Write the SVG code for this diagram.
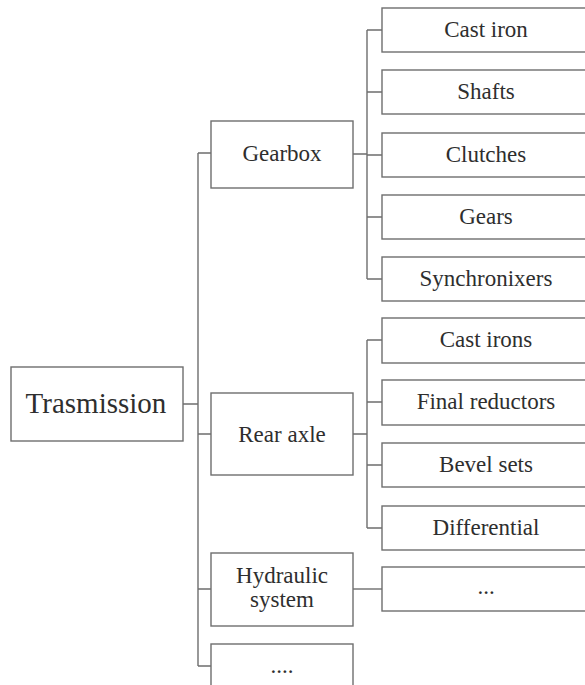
<svg xmlns="http://www.w3.org/2000/svg" width="585" height="685" viewBox="0 0 585 685">
<style>
rect{fill:#fff;stroke:#6e6e6e;stroke-width:1.4}
text{font-family:"Liberation Serif","Times New Roman",serif;font-size:23px;fill:#2e2e2e;text-anchor:middle}
.big{font-size:29px}
#connectors path{fill:none;stroke:#6e6e6e;stroke-width:1.4}
</style>
<rect x="0" y="0" width="585" height="685" style="fill:#fff;stroke:none"/>
<g id="connectors">
<path d="M183 404H198M198 153V666M198 153H211M198 434H211M198 589H211M198 666H211"/>
<path d="M353 154H367M367 30V279M367 30H382M367 92H382M367 155H382M367 217H382M367 279H382"/>
<path d="M353 434H367M367 340V528M367 340H382M367 402H382M367 465H382M367 528H382"/>
<path d="M353 589H382"/>
</g>
<g id="trasmission"><rect x="11" y="367" width="172" height="74"/><text class="big" x="96" y="413">Trasmission</text></g>
<g id="gearbox"><rect x="211" y="121" width="142" height="67"/><text x="282" y="161">Gearbox</text></g>
<g id="rear-axle"><rect x="211" y="393" width="142" height="82"/><text x="282" y="442">Rear axle</text></g>
<g id="hydraulic"><rect x="211" y="553" width="142" height="73"/><text x="282" y="583">Hydraulic</text><text x="282" y="607">system</text></g>
<g id="more"><rect x="211" y="644" width="142" height="60"/><text x="282" y="673">....</text></g>
<g id="cast-iron"><rect x="382" y="8" width="210" height="44"/><text x="486" y="37">Cast iron</text></g>
<g id="shafts"><rect x="382" y="70" width="210" height="44"/><text x="486" y="99">Shafts</text></g>
<g id="clutches"><rect x="382" y="133" width="210" height="44"/><text x="486" y="162">Clutches</text></g>
<g id="gears"><rect x="382" y="195" width="210" height="44"/><text x="486" y="224">Gears</text></g>
<g id="synchronixers"><rect x="382" y="257" width="210" height="44"/><text x="486" y="286">Synchronixers</text></g>
<g id="cast-irons"><rect x="382" y="318" width="210" height="45"/><text x="486" y="347">Cast irons</text></g>
<g id="final-reductors"><rect x="382" y="380" width="210" height="45"/><text x="486" y="409">Final reductors</text></g>
<g id="bevel-sets"><rect x="382" y="443" width="210" height="44"/><text x="486" y="472">Bevel sets</text></g>
<g id="differential"><rect x="382" y="506" width="210" height="44"/><text x="486" y="535">Differential</text></g>
<g id="hyd-leaf"><rect x="382" y="567" width="210" height="44"/><text x="486" y="594">...</text></g>
</svg>
